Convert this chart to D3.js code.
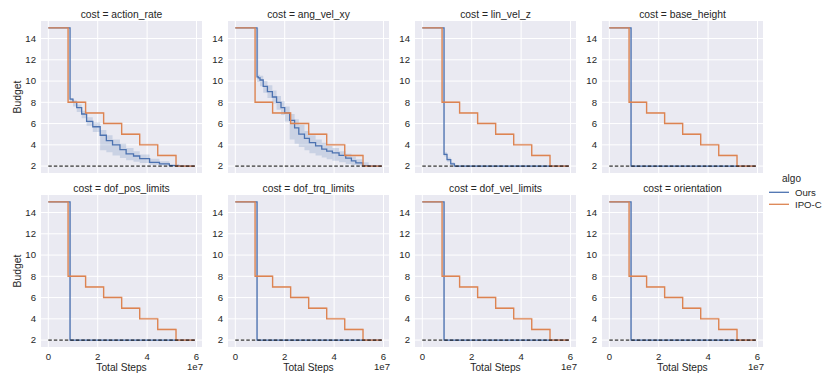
<!DOCTYPE html>
<html>
<head>
<meta charset="utf-8">
<script src="https://cdn.jsdelivr.net/npm/d3@7"></script>
<style>
  html, body { margin: 0; padding: 0; background: #ffffff; }
  svg { display: block; font-family: "Liberation Sans", Arial, Helvetica, sans-serif; }
</style>
</head>
<body>
<svg id="chart" width="830" height="385"></svg>
<script>
// ---------------- data ----------------
const costs = ["action_rate", "ang_vel_xy", "lin_vel_z", "base_height",
               "dof_pos_limits", "dof_trq_limits", "dof_vel_limits", "orientation"];
const seriesNames = ["Ours", "IPO-C"];
const xTicks = [0, 2, 4, 6];          // in units of 1e7
const yTicks = [2, 4, 6, 8, 10, 12, 14];
const budgetFloor = 2;
const xEnd = 5.93;                    // last logged step (1e7)

// IPO-C: common staircase schedule (x in 1e7 steps)
const ipoX  = [0, 0.80, 1.51, 2.24, 2.97, 3.70, 4.43, 5.17, 5.93];
const ipoY  = [15, 8, 7, 6, 5, 4, 3, 2, 2];
const ipoHi = [15, 8.12, 7.1, 6.1, 5.12, 4.12, 3.08, 2.05, 2];

// Ours: action_rate
const oursX_action  = [0, 0.88, 1.0, 1.15, 1.35, 1.55, 1.8, 2.1, 2.35, 2.6, 2.9, 3.15, 3.45, 3.7, 4.1, 4.5, 4.9, 5.3, 5.93];
const oursY_action  = [15, 8.3, 8.0, 7.5, 6.9, 6.2, 5.7, 4.9, 4.4, 4.0, 3.55, 3.15, 2.95, 2.7, 2.35, 2.2, 2.05, 2.0, 2.0];
const oursLo_action = [15, 8.0, 7.6, 7.1, 6.5, 5.8, 5.2, 3.5, 3.3, 3.0, 2.75, 2.55, 2.4, 2.3, 2.12, 2.05, 2.0, 2.0, 2.0];
const oursHi_action = [15, 8.4, 8.2, 7.8, 7.2, 6.6, 6.1, 5.4, 4.9, 4.5, 4.1, 3.7, 3.4, 3.1, 2.7, 2.45, 2.2, 2.05, 2.0];

// Ours: ang_vel_xy
const oursX_ang  = [0, 0.88, 0.93, 1.0, 1.13, 1.3, 1.5, 1.67, 1.85, 2.0, 2.2, 2.4, 2.57, 2.8, 3.0, 3.25, 3.5, 3.7, 3.93, 4.2, 4.47, 4.7, 4.88, 5.15, 5.4, 5.93];
const oursY_ang  = [15, 10.4, 10.3, 10.1, 9.5, 9.0, 8.5, 8.0, 7.5, 7.0, 6.3, 5.6, 5.0, 4.6, 4.2, 3.9, 3.6, 3.4, 3.25, 3.0, 2.75, 2.5, 2.3, 2.05, 2.0, 2.0];
const oursLo_ang = [15, 9.9, 9.9, 9.5, 8.9, 8.4, 7.9, 7.3, 6.8, 6.2, 4.5, 4.1, 3.8, 3.5, 3.2, 3.0, 2.8, 2.65, 2.5, 2.35, 2.2, 2.1, 2.05, 2.0, 2.0, 2.0];
const oursHi_ang = [15, 15, 10.6, 10.5, 10.0, 9.6, 9.1, 8.6, 8.1, 7.6, 6.9, 6.4, 5.9, 5.3, 4.9, 4.5, 4.2, 3.9, 3.7, 3.4, 3.15, 2.9, 2.65, 2.35, 2.1, 2.0];

// Ours: lin_vel_z
const oursX_lin  = [0, 0.86, 0.88, 1.0, 1.15, 1.3, 5.93];
const oursY_lin  = [15, 15, 3.1, 2.6, 2.2, 2.0, 2.0];
const oursLo_lin = [15, 3.0, 2.9, 2.4, 2.05, 2.0, 2.0];
const oursHi_lin = [15, 15, 3.3, 2.8, 2.35, 2.05, 2.0];

// Ours: single drop to the floor (remaining costs)
const oursX_drop  = [0, 0.86, 0.88, 0.90, 5.93];
const oursY_drop  = [15, 15, 2, 2, 2];
const oursLo_drop = [15, 2, 2, 2, 2];
const oursHi_drop = [15, 15, 15, 2, 2];

const oursByCost = [
  [oursX_action, oursY_action, oursLo_action, oursHi_action],
  [oursX_ang, oursY_ang, oursLo_ang, oursHi_ang],
  [oursX_lin, oursY_lin, oursLo_lin, oursHi_lin],
  [oursX_drop, oursY_drop, oursLo_drop, oursHi_drop],
  [oursX_drop, oursY_drop, oursLo_drop, oursHi_drop],
  [oursX_drop, oursY_drop, oursLo_drop, oursHi_drop],
  [oursX_drop, oursY_drop, oursLo_drop, oursHi_drop],
  [oursX_drop, oursY_drop, oursLo_drop, oursHi_drop]
];

// ---------------- layout / style ----------------
const colors = { "Ours": "#4c72b0", "IPO-C": "#dd8452" };
const textColor = "#262626";
const panelLeft = [41, 228, 415, 602];
const rowTop = [21, 195];
const panelW = 161, panelH = 152;

const svg = d3.select("#chart");

const x = d3.scaleLinear().domain([-0.296, 6.222]).range([0, panelW]);
const y = d3.scaleLinear().domain([1.35, 15.65]).range([panelH, 0]);

const line = d3.line().curve(d3.curveStepAfter).x(d => x(d[0])).y(d => y(d[1]));
const area = d3.area().curve(d3.curveStepAfter).x(d => x(d[0])).y0(d => y(d[1])).y1(d => y(d[2]));

costs.forEach((cost, i) => {
  const col = i % 4, row = Math.floor(i / 4);
  const g = svg.append("g").attr("transform", `translate(${panelLeft[col]},${rowTop[row]})`);

  g.append("rect").attr("width", panelW).attr("height", panelH).attr("fill", "#eaeaf2");

  // grid
  g.selectAll(".gx").data(xTicks).enter().append("line")
    .attr("x1", d => x(d)).attr("x2", d => x(d)).attr("y1", 0).attr("y2", panelH)
    .attr("stroke", "#ffffff").attr("stroke-width", 1);
  g.selectAll(".gy").data(yTicks).enter().append("line")
    .attr("x1", 0).attr("x2", panelW).attr("y1", d => y(d)).attr("y2", d => y(d))
    .attr("stroke", "#ffffff").attr("stroke-width", 1);

  // Ours
  const [ox, oy, olo, ohi] = oursByCost[i];
  const oursBand = ox.map((v, k) => [v, olo[k], ohi[k]]);
  const oursLine = ox.map((v, k) => [v, oy[k]]);
  g.append("path").attr("d", area(oursBand)).attr("fill", colors["Ours"]).attr("fill-opacity", 0.2);
  g.append("path").attr("d", line(oursLine)).attr("fill", "none")
    .attr("stroke", colors["Ours"]).attr("stroke-width", 1.3);

  // IPO-C
  const ipoBand = ipoX.map((v, k) => [v, ipoY[k], ipoHi[k]]);
  const ipoLine = ipoX.map((v, k) => [v, ipoY[k]]);
  g.append("path").attr("d", area(ipoBand)).attr("fill", colors["IPO-C"]).attr("fill-opacity", 0.2);
  g.append("path").attr("d", line(ipoLine)).attr("fill", "none")
    .attr("stroke", colors["IPO-C"]).attr("stroke-width", 1.4);

  // budget floor
  g.append("line").attr("x1", x(0)).attr("x2", x(xEnd))
    .attr("y1", y(budgetFloor)).attr("y2", y(budgetFloor))
    .attr("stroke", "#000000").attr("stroke-width", 1).attr("stroke-dasharray", "3.5,2");

  // title
  g.append("text").attr("x", panelW / 2).attr("y", -3.5).attr("text-anchor", "middle")
    .attr("font-size", 10.3).attr("fill", textColor).text(`cost = ${cost}`);

  // y tick labels
  g.selectAll(".yt").data(yTicks).enter().append("text")
    .attr("x", -5).attr("y", d => y(d)).attr("dy", "0.35em").attr("text-anchor", "end")
    .attr("font-size", 9.6).attr("fill", textColor).text(d => d);

  if (col === 0) {
    g.append("text").attr("transform", `translate(${-20},${panelH / 2}) rotate(-90)`)
      .attr("text-anchor", "middle").attr("font-size", 10.4).attr("fill", textColor).text("Budget");
  }

  if (row === 1) {
    g.selectAll(".xt").data(xTicks).enter().append("text")
      .attr("x", d => x(d)).attr("y", panelH + 12.5).attr("text-anchor", "middle")
      .attr("font-size", 9.6).attr("fill", textColor).text(d => d);
    g.append("text").attr("x", panelW / 2).attr("y", panelH + 24)
      .attr("text-anchor", "middle").attr("font-size", 10.2).attr("fill", textColor).text("Total Steps");
    g.append("text").attr("x", panelW + 1).attr("y", panelH + 23)
      .attr("text-anchor", "end").attr("font-size", 9.6).attr("fill", textColor).text("1e7");
  }
});

// legend
const leg = svg.append("g");
leg.append("text").attr("x", 791.5).attr("y", 181.5).attr("text-anchor", "middle")
  .attr("font-size", 10).attr("fill", textColor).text("algo");
seriesNames.forEach((name, k) => {
  const yy = 192.3 + k * 12;
  leg.append("line").attr("x1", 769).attr("x2", 789).attr("y1", yy).attr("y2", yy)
    .attr("stroke", colors[name]).attr("stroke-width", 1.3);
  leg.append("text").attr("x", 795).attr("y", yy).attr("dy", "0.35em")
    .attr("font-size", 9.6).attr("fill", textColor).text(name);
});
</script>
</body>
</html>
